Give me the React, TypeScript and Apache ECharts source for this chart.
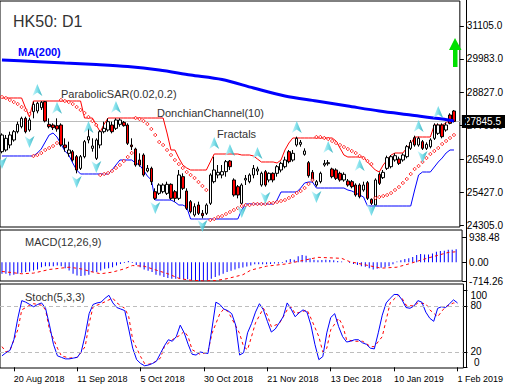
import React, { useEffect, useRef } from 'react';
import * as echarts from 'echarts';

// ---------- trading days (x categories) ----------
const aug2018 = [15, 16, 17, 20, 21, 22, 23, 24, 27, 28, 29, 30, 31];
const sep2018 = [3, 4, 5, 6, 7, 10, 11, 12, 13, 14, 17, 18, 19, 20, 21, 24, 26, 27, 28];
const oct2018 = [2, 3, 4, 5, 8, 9, 10, 11, 12, 15, 16, 18, 19, 22, 23, 24, 25, 26, 29, 30, 31];
const nov2018 = [1, 2, 5, 6, 7, 8, 9, 12, 13, 14, 15, 16, 19, 20, 21, 22, 23, 26, 27, 28, 29, 30];
const dec2018 = [3, 4, 5, 6, 7, 10, 11, 12, 13, 14, 17, 18, 19, 20, 21, 24, 27, 28];
const jan2019 = [2, 3, 4, 7, 8, 9, 10, 11, 14, 15, 16, 17, 18, 21, 22, 23, 24, 25, 28, 29, 30, 31];
const feb2019 = [1];
const monthDays: [string, number[]][] = [
  ['Aug 2018', aug2018], ['Sep 2018', sep2018], ['Oct 2018', oct2018], ['Nov 2018', nov2018],
  ['Dec 2018', dec2018], ['Jan 2019', jan2019], ['Feb 2019', feb2019],
];
const categories = monthDays.flatMap(([m, days]) => days.map((d) => `${d} ${m}`));

// ---------- OHLC ----------
const open = [26811,26868,27039,27210,27494,27665,27950,27551,28178,28201,28314,28519,27745,27722,27699,27722,27039,26754,26811,26640,26241,26640,27210,26925,26583,27039,27494,27551,27722,27608,27745,27813,27722,27039,26902,26526,26697,26150,26241,25444,25387,25444,25387,25695,25444,25216,25957,25467,25102,24647,24989,24704,24704,25046,25786,26014,26014,26128,26492,25843,25615,25046,25843,25786,26014,26150,25672,26128,25843,26071,26071,26185,26298,26811,26526,27039,27062,26720,26435,26105,25672,25786,26355,26401,26219,26185,26071,25843,25809,25786,25672,25672,25501,25752,25182,24989,26037,25923,26241,26298,26526,26560,26526,26640,26925,27289,27039,27153,26925,26982,27267,27437,27722,27551,28064,28201];
const close = [27381,27267,27381,27494,27745,27950,27494,27893,28428,28463,28497,27859,27665,27631,27586,27039,26948,26868,26526,26185,26640,27153,27324,27005,27210,27494,27608,27836,27494,27893,27893,27699,27096,26982,26355,26355,26014,26241,25786,25216,25672,25672,25695,25216,25216,26014,25558,24875,24761,24932,24704,24624,24989,26014,26185,26105,26128,26469,26298,25330,25330,25672,25900,26014,26241,26219,26071,25672,26071,25843,26298,26412,26526,26469,26754,27267,27130,26834,25991,25843,25786,26071,26412,26435,25957,25900,25843,26037,25672,25615,25330,25273,25672,25216,25046,25843,25729,26105,26606,26640,26674,26412,26697,26982,27130,27039,27267,26925,27062,27210,27722,27722,27324,27722,27779,27845.5];
const low = [26754,26811,26925,27153,27437,27608,27437,27494,27950,28121,28235,27813,27608,27551,27494,26982,26811,26640,26469,26071,26185,26583,27096,26811,26526,26925,27437,27494,27437,27551,27665,27665,27039,26868,26298,26298,25957,26105,25672,25159,25330,25387,25330,25159,25102,25159,25501,24818,24704,24590,24647,24533,24647,24989,25729,25900,25900,25957,26185,25273,25216,24989,25672,25729,25900,26014,25615,25615,25763,25763,25957,26105,26241,26412,26469,26982,26982,26674,25923,25763,25615,25729,26298,26333,25900,25843,25786,25786,25615,25558,25273,25216,25444,25159,24989,24966,25672,25877,26185,26241,26469,26355,26469,26583,26868,26982,26982,26868,26868,26925,27210,27381,27267,27494,27745,27813];
const high = [27437,27381,27494,27551,27836,28007,28007,27973,28519,28519,28542,28542,27950,27779,27950,27779,27267,27153,26868,26697,26697,27210,27608,27267,27267,27551,27836,27950,27836,27950,27950,27859,27779,27267,26948,26754,26754,26355,26298,25558,25729,25729,25786,25729,25501,26185,26071,25558,25159,25046,25102,24818,25046,26071,26640,26355,26355,26526,26526,25900,25672,25729,26014,26071,26355,26298,26128,26185,26105,26105,26355,26469,26640,26868,26868,27324,27210,26925,26492,26185,25843,26128,26526,26526,26264,26241,26128,26105,25877,25843,25729,25729,25786,25809,25216,25900,26105,26185,26674,26697,26754,26640,26754,27039,27210,27358,27324,27210,27130,27267,27779,27779,27779,27813,28121,28235];
const lastPrice = 27845.5;

// ---------- indicators on the price panel ----------
const ma200: [number, number][] = [
  [0, 29943], [8, 29892], [16, 29840], [24, 29789], [32, 29721], [40, 29601], [48, 29431], [56, 29277],
  [64, 28986], [72, 28712], [80, 28542], [88, 28371], [96, 28200], [104, 28064], [112, 27927], [115, 27859],
];
const sar = [28679,28645,28576,28508,28440,28337,28235,28098,26663,26697,26765,26868,26936,27004,27107,28576,28542,28508,28440,28337,28235,28132,27995,27859,27722,26014,26048,26082,26150,26253,26355,26492,26629,26765,27961,27927,27859,27756,27585,27380,27141,27039,26868,26697,26526,26389,26253,26116,26014,25911,25774,25638,25501,24476,24510,24578,24613,24681,24749,24818,24886,24954,24988,24988,25023,25023,25023,25023,25057,25057,25091,25125,25159,25228,25296,25398,25467,25569,25706,25843,27312,27312,27278,27244,27175,27107,27039,26970,26902,26834,26765,26663,26594,26492,26389,25228,25262,25296,25330,25398,25501,25603,25740,25877,26048,26219,26321,26458,26594,26731,26834,26936,27073,27175,27278,27380];
const donchianUpper = [28645,28645,28645,28645,28645,28645,28303,27995,28542,28542,28542,28542,28542,28542,28542,28542,28542,28542,28542,28542,28542,27961,27961,27961,27722,27483,27756,27961,27961,27961,27961,27961,27961,27961,27961,27961,27961,27961,27961,27961,27961,27961,27449,26868,26868,26594,26355,26253,26184,26184,26184,26184,26184,26458,26731,26731,26731,26731,26731,26731,26731,26697,26697,26697,26663,26560,26458,26458,26458,26458,26424,26526,26868,27107,27278,27278,27278,27278,27278,27278,27278,27278,27278,27278,27278,27175,26936,26697,26629,26629,26629,26629,26629,26458,26321,26184,26116,26355,26526,26697,26765,26765,26765,26936,27073,27312,27312,27312,27312,27312,27722,27722,27722,27790,27893,28132];
const donchianLower = [26663,26663,26663,26663,26663,26663,26663,26663,26663,26765,26902,27141,27380,27449,27312,27073,26834,26697,26424,26184,26048,26048,26048,26048,26048,26048,26048,26048,26184,26355,26526,26526,26526,26526,26424,26355,26184,25979,25843,25159,25159,25159,25159,25159,25091,24988,24988,24920,24510,24510,24510,24510,24510,24510,24510,24510,24510,24510,24510,24510,24510,24818,25023,25023,25023,25023,25023,25023,25023,25023,25159,25433,25433,25433,25433,25433,25569,25740,25774,25774,25569,25569,25569,25569,25569,25569,25569,25569,25501,25467,25398,25330,25262,24954,24954,24954,24954,24954,24954,24954,24954,24954,24954,24954,24954,25501,26014,26116,26116,26116,26287,26458,26594,26765,26868,26868];
const fractalsUp: [number, number][] = [
  [9, 28918], [14, 28313], [22, 27654], [29, 28337], [54, 27107], [58, 26868],
  [65, 26765], [75, 27654], [83, 26970], [91, 26355], [106, 27688], [111, 28166],
];
const fractalsDown: [number, number][] = [
  [0, 26424], [7, 27141], [19, 25774], [24, 26287], [39, 24886], [51, 24271],
  [61, 24749], [67, 25228], [80, 25262], [94, 24818], [107, 26629],
];
const priceTicks = [24305, 25427, 26549, 27705, 28827, 29983, 31105];

// ---------- MACD(12,26,9) ----------
const macd = [-438,-438,-500,-475,-438,-400,-375,-350,-313,-275,-188,-150,-150,-150,-125,-150,-225,-313,-438,-500,-525,-500,-475,-375,-375,-313,-250,-225,-188,-125,-63,-25,50,-25,-100,-188,-275,-325,-375,-475,-500,-563,-600,-625,-625,-625,-650,-650,-688,-705,-710,-705,-688,-625,-563,-500,-438,-375,-325,-275,-225,-200,-160,-120,-80,-75,-75,-75,-63,-50,-50,-25,75,125,100,225,275,250,150,100,75,88,100,88,75,50,25,0,-25,-63,-100,-150,-175,-225,-275,-250,-213,-188,-150,-75,25,75,125,150,200,275,313,300,300,338,400,425,438,475,475,500];
const macdSignal: [number, number][] = [
  [0, -350], [5, -438], [8, -413], [12, -275], [17, -188], [20, -250], [23, -375], [25, -438],
  [28, -375], [31, -250], [33, -125], [36, -150], [38, -250], [42, -438], [45, -625], [48, -688],
  [51, -710], [54, -700], [57, -625], [61, -475], [63, -300], [67, -150], [72, -63], [76, 63],
  [80, 188], [86, 150], [88, 25], [92, -100], [96, -225], [100, -188], [103, -63], [107, 125],
  [110, 250], [113, 375], [115, 400],
];
const macdTicks = [-714.26, 0, 938.48];

// ---------- Stochastic(5,3,3) ----------
const stochK = [15,19,22,36,64,87,85,82,79,82,84,77,55,30,15,13,11,11,12,13,20,42,70,82,84,85,90,94,84,78,76,74,50,25,10,5,2,3,5,8,18,28,36,34,40,55,45,30,17,16,20,19,18,50,85,82,76,74,70,55,16,19,45,57,72,83,75,60,46,50,58,66,84,76,66,71,75,72,55,30,10,14,45,65,70,53,40,33,34,36,36,32,30,25,24,45,68,84,90,95,95,88,78,77,80,87,85,72,64,60,77,79,78,83,88,84];
const stochD: [number, number][] = [
  [0, 27], [1, 20], [2, 22], [4, 49], [5, 75], [7, 81], [8, 83], [10, 81], [11, 75], [12, 49], [14, 25],
  [15, 15], [17, 12], [19, 13], [21, 27], [22, 57], [23, 79], [25, 83], [27, 88], [28, 90], [29, 84],
  [31, 77], [32, 66], [33, 36], [35, 14], [36, 5], [37, 4], [38, 5], [40, 12], [41, 27], [43, 36],
  [45, 42], [46, 47], [47, 40], [48, 23], [50, 17], [52, 20], [53, 44], [55, 70], [56, 76], [57, 73],
  [58, 64], [60, 44], [61, 27], [62, 23], [63, 40], [64, 58], [66, 77], [67, 68], [68, 53], [70, 57],
  [72, 75], [73, 79], [74, 70], [76, 73], [77, 75], [78, 64], [80, 40], [81, 20], [82, 25], [83, 49],
  [85, 64], [86, 55], [87, 36], [89, 34], [91, 34], [92, 31], [93, 27], [94, 27], [96, 40], [97, 62],
  [98, 84], [100, 94], [101, 90], [102, 81], [104, 80], [105, 84], [107, 83], [108, 75], [110, 66],
  [111, 73], [112, 79], [114, 84], [115, 83],
];
const stochTicks = [0, 20, 80, 100];
const stochLevels = [20, 80];

const FONT = '"Liberation Sans", Arial, sans-serif';

export default function App() {
  const ref = useRef<HTMLDivElement>(null);
  useEffect(() => {
    if (!ref.current) return;
    const chart = echarts.init(ref.current, undefined, { renderer: 'svg' });
    const xData = [...categories, ''];
    const showTick = (i: number) => i % 16 === 3;
    const gridBase = { left: -2, width: 468, show: true, borderColor: '#000', borderWidth: 1, backgroundColor: '#fff' };
    const xBase = (gi: number) => ({
      type: 'category', gridIndex: gi, data: xData, boundaryGap: true,
      axisLine: { show: false }, axisTick: { show: false }, axisLabel: { show: false }, splitLine: { show: false },
    });
    const yLabel = { color: '#000', fontSize: 10, fontFamily: FONT, margin: 7 };
    const fractalColor = new echarts.graphic.LinearGradient(0, 0, 1, 0, [
      { offset: 0, color: '#c4f6fb' }, { offset: 0.5, color: '#5cd6e4' }, { offset: 1, color: '#0f9fae' },
    ]);
    const candles = open.map((o, i) => [o, close[i], low[i], high[i]]);
    const stochLabelValues = stochTicks.filter((v) => v > 0);
    const stochMin = Math.min(...stochTicks);

    chart.setOption({
      animation: false,
      backgroundColor: '#fff',
      grid: [
        { ...gridBase, top: 1, height: 226 },
        { ...gridBase, top: 230, height: 51 },
        { ...gridBase, top: 284, height: 84 },
      ],
      xAxis: [
        xBase(0),
        xBase(1),
        {
          ...xBase(2),
          axisTick: { show: true, alignWithLabel: true, interval: showTick, length: 4, lineStyle: { color: '#000' } },
          axisLabel: { show: true, interval: showTick, align: 'left', color: '#000', fontSize: 9, fontFamily: FONT, margin: 6 },
        },
      ],
      yAxis: [
        {
          type: 'value', gridIndex: 0, position: 'right', min: 24237, max: 31959, scale: true,
          splitLine: { show: false }, axisLine: { show: false },
          axisTick: { show: true, length: 4, customValues: priceTicks, lineStyle: { color: '#000' } },
          axisLabel: { ...yLabel, customValues: priceTicks, formatter: (v: number) => v.toFixed(1) },
        },
        {
          type: 'value', gridIndex: 1, position: 'right', min: -714.26, max: 1230,
          splitLine: { show: false }, axisLine: { show: false },
          axisTick: { show: true, length: 4, customValues: macdTicks, lineStyle: { color: '#000' } },
          axisLabel: { ...yLabel, customValues: macdTicks, formatter: (v: number) => v.toFixed(2) },
        },
        {
          type: 'value', gridIndex: 2, position: 'right', min: -0.9, max: 108.7,
          splitLine: { show: false }, axisLine: { show: false },
          axisTick: { show: true, length: 4, customValues: stochTicks, lineStyle: { color: '#000' } },
          axisLabel: {
            ...yLabel, lineHeight: 10, customValues: stochLabelValues,
            formatter: (v: number) => (Math.round(v) === 100 ? '{t|100}' : String(Math.round(v))),
            rich: { t: { padding: [10, 0, 0, 0], lineHeight: 10, fontSize: 10, fontFamily: FONT, color: '#000' } },
          },
        },
      ],
      series: [
        {
          type: 'line', name: 'DonchianUpper', xAxisIndex: 0, yAxisIndex: 0, data: donchianUpper,
          showSymbol: false, lineStyle: { color: '#ff0000', width: 1 }, z: 2,
        },
        {
          type: 'line', name: 'DonchianLower', xAxisIndex: 0, yAxisIndex: 0, data: donchianLower,
          showSymbol: false, lineStyle: { color: '#0000ff', width: 1 }, z: 2,
        },
        {
          type: 'candlestick', name: 'HK50', xAxisIndex: 0, yAxisIndex: 0, data: candles, barWidth: 3,
          itemStyle: { color: '#ffffff', color0: '#ff0000', borderColor: '#000000', borderColor0: '#000000', borderWidth: 1 },
          z: 3,
          markLine: {
            silent: true, symbol: ['none', 'none'],
            lineStyle: { color: '#bdbdbd', width: 1, type: 'solid' },
            label: {
              show: true, position: 'end', distance: 2, formatter: lastPrice.toFixed(1), color: '#fff',
              backgroundColor: '#000', padding: [2, 4, 1, 3], fontSize: 10, fontFamily: FONT,
            },
            data: [{ yAxis: lastPrice }],
            z: 1,
          },
        },
        {
          type: 'line', name: 'MA(200)', xAxisIndex: 0, yAxisIndex: 0, data: ma200, smooth: 0.3,
          showSymbol: false, lineStyle: { color: '#0000ff', width: 3 }, z: 4,
        },
        {
          type: 'scatter', name: 'ParabolicSAR', xAxisIndex: 0, yAxisIndex: 0,
          data: sar.map((v, i) => [i, v]), symbol: 'diamond', symbolSize: 3.5,
          itemStyle: { color: '#ffffff', borderColor: '#ff0000', borderWidth: 1 }, z: 5,
        },
        {
          type: 'scatter', name: 'FractalsUp', xAxisIndex: 0, yAxisIndex: 0, data: fractalsUp,
          symbol: 'path://M5,0L10,12L5,8.5L0,12Z', symbolSize: [10, 12],
          itemStyle: { color: fractalColor }, z: 6,
        },
        {
          type: 'scatter', name: 'FractalsDown', xAxisIndex: 0, yAxisIndex: 0, data: fractalsDown,
          symbol: 'path://M0,0L5,3.5L10,0L5,12Z', symbolSize: [10, 12],
          itemStyle: { color: fractalColor }, z: 6,
        },
        {
          type: 'bar', name: 'MACD', xAxisIndex: 1, yAxisIndex: 1, data: macd, barWidth: 1,
          itemStyle: { color: '#0000ff' },
        },
        {
          type: 'line', name: 'Signal', xAxisIndex: 1, yAxisIndex: 1, data: macdSignal, showSymbol: false,
          lineStyle: { color: '#ff0000', width: 1, type: [3, 3] }, z: 3,
        },
        {
          type: 'line', name: '%K', xAxisIndex: 2, yAxisIndex: 2, data: stochK, showSymbol: false,
          lineStyle: { color: '#0000ff', width: 1 }, z: 3,
          markLine: {
            silent: true, symbol: ['none', 'none'], label: { show: false },
            lineStyle: { color: '#bdbdbd', width: 1, type: [4, 3] },
            data: stochLevels.map((v) => ({ yAxis: v })),
          },
        },
        {
          type: 'line', name: '%D', xAxisIndex: 2, yAxisIndex: 2, data: stochD, showSymbol: false,
          lineStyle: { color: '#ff0000', width: 1, type: [3, 3] }, z: 2,
        },
      ],
      graphic: [
        { type: 'line', shape: { x1: 466.5, y1: 0, x2: 466.5, y2: 368 }, style: { stroke: '#000', lineWidth: 1 }, z: 100 },
        { type: 'text', x: 13, y: 21, style: { text: 'HK50: D1', fill: '#333', fontSize: 16, fontFamily: FONT, verticalAlign: 'middle' } },
        { type: 'text', x: 18, y: 52, style: { text: 'MA(200)', fill: '#0000ff', fontSize: 11, fontWeight: 'bold', fontFamily: FONT, verticalAlign: 'middle' } },
        { type: 'text', x: 61, y: 93.5, z: 10, style: { text: 'ParabolicSAR(0.02,0.2)', fill: '#333', fontSize: 11, fontFamily: FONT, verticalAlign: 'middle' } },
        { type: 'text', x: 157, y: 112.5, z: 10, style: { text: 'DonchianChannel(10)', fill: '#333', fontSize: 11, fontFamily: FONT, verticalAlign: 'middle' } },
        { type: 'text', x: 217, y: 133.5, z: 10, style: { text: 'Fractals', fill: '#333', fontSize: 11, fontFamily: FONT, verticalAlign: 'middle' } },
        { type: 'text', x: 25, y: 242, z: 10, style: { text: 'MACD(12,26,9)', fill: '#333', fontSize: 11, fontFamily: FONT, verticalAlign: 'middle' } },
        { type: 'text', x: 25, y: 296.5, z: 10, style: { text: 'Stoch(5,3,3)', fill: '#333', fontSize: 11, fontFamily: FONT, verticalAlign: 'middle' } },
        { type: 'text', x: 474, y: 362.5, z: 10, style: { text: String(stochMin), fill: '#000', fontSize: 10, lineHeight: 10, fontFamily: FONT, verticalAlign: 'middle' } },
        {
          type: 'polygon', z: 10,
          shape: { points: [[455, 38], [449, 50], [453, 50], [453, 67], [457.5, 67], [457.5, 50], [461.5, 50]] },
          style: { fill: '#00e000' },
        },
      ],
    });
    return () => chart.dispose();
  }, []);
  return <div ref={ref} style={{ position: 'fixed', left: 0, top: 0, width: 506, height: 390, background: '#fff' }} />;
}
